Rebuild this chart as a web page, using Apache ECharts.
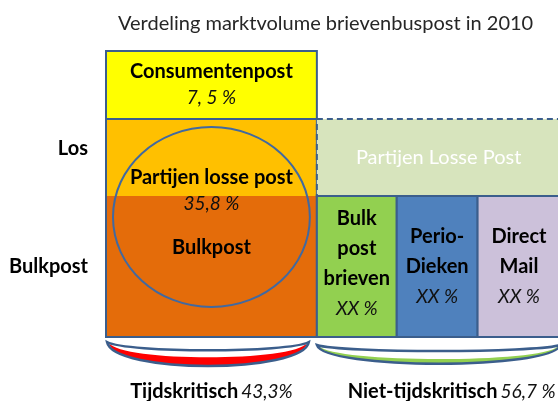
<!DOCTYPE html>
<html><head><meta charset="utf-8">
<script src="https://cdn.jsdelivr.net/npm/echarts@6/dist/echarts.min.js"></script>
<style>html,body{margin:0;padding:0;background:#fff}#c{width:558px;height:401px}</style>
</head><body><div id="c"></div>
<script>
// ---- data ----
const titleText = 'Verdeling marktvolume brievenbuspost in 2010';
const groupNames = ['Tijdskritisch', 'Niet-tijdskritisch'];
const groupShares = [43.3, 56.7];
const groupShareLabels = ['43,3%', '56,7 %'];
const leftNames = ['Consumentenpost', 'Partijen losse post', 'Bulkpost'];
const leftShareLabels = ['7, 5 %', '35,8 %'];
const layerNames = ['Bulkpost', 'Los'];
const layerBounds = [0, 4.93, 7.62, 10]; // schematic layers: bulk | los | consumenten
const rightTopName = 'Partijen Losse Post';
const subNames = ['Bulk\npost\nbrieven', 'Perio-\nDieken', 'Direct\nMail'];
const subShares = [16.4, 16.6, 17.0]; // schematic widths as drawn (labels read "XX %")
const subShareLabels = ['XX %', 'XX %', 'XX %'];

// ---- build ----
const FONT = 'Lato';
const OUT = '#3B5E8C';
const G0 = groupShares[0];
const G1 = G0 + subShares.reduce((s, v) => s + v, 0);
const L = layerBounds;

const blocks = [];
blocks.push({x0: 0, x1: G0, y0: L[2], y1: L[3], fill: '#FFFF00', stroke: OUT,
  text: '{b|' + leftNames[0] + '}\n{i|' + leftShareLabels[0] + '}', lh: 26});
blocks.push({x0: 0, x1: G0, y0: L[1], y1: L[2], fill: '#FFC000'});
blocks.push({x0: 0, x1: G0, y0: L[0], y1: L[1], fill: '#E46C0A'});
blocks.push({x0: 0, x1: G0, y0: L[0], y1: L[2], fill: 'none', stroke: OUT});
blocks.push({x0: G0, x1: G1, y0: L[1], y1: L[2], fill: '#D7E4BD', stroke: OUT, dash: [6, 4],
  text: '{w|' + rightTopName + '}', lh: 26});
const subFills = ['#92D050', '#4F81BD', '#CCC1DA'];
let acc = G0;
subShares.forEach((s, i) => {
  const lines = subNames[i].split('\n').map(t => '{b|' + t + '}');
  lines.push('{i|' + subShareLabels[i] + '}');
  blocks.push({x0: acc, x1: acc + s, y0: L[0], y1: L[1], fill: subFills[i], stroke: OUT,
    text: lines.join('\n'), lh: 30, dy: i === 0 ? -3 : 0});
  acc += s;
});

const rich = {
  b: {fontFamily: FONT, fontWeight: 'bold', fontSize: 20, fill: '#000000'},
  i: {fontFamily: FONT, fontStyle: 'italic', fontSize: 19, fill: '#111111'},
  w: {fontFamily: FONT, fontWeight: 'normal', fontSize: 20, fill: '#FFFFFF'}
};
function richWith(lh) {
  const r = {};
  Object.keys(rich).forEach(k => { r[k] = Object.assign({lineHeight: lh}, rich[k]); });
  return r;
}

function renderBlock(params, api) {
  const b = blocks[params.dataIndex];
  const p0 = api.coord([api.value(0), api.value(3)]);
  const p1 = api.coord([api.value(1), api.value(2)]);
  const el = {
    type: 'rect',
    shape: {x: p0[0], y: p0[1], width: p1[0] - p0[0], height: p1[1] - p0[1]},
    style: {fill: b.fill, stroke: b.stroke || null, lineWidth: b.stroke ? 2 : 0, lineDash: b.dash || null}
  };
  if (b.text) {
    el.textContent = {type: 'text', style: {text: b.text, rich: richWith(b.lh), align: 'center', verticalAlign: 'middle',
      fontFamily: FONT, fill: '#000000'}};
    el.textConfig = {position: 'inside', offset: [0, b.dy || 0], insideFill: '#000000', insideStroke: 'none'};
  }
  return el;
}

function ellipsePath(cx, cy, rx, ry) {
  const k = 0.5523;
  return 'M' + (cx - rx) + ' ' + cy +
    ' C' + (cx - rx) + ' ' + (cy - k * ry) + ' ' + (cx - k * rx) + ' ' + (cy - ry) + ' ' + cx + ' ' + (cy - ry) +
    ' C' + (cx + k * rx) + ' ' + (cy - ry) + ' ' + (cx + rx) + ' ' + (cy - k * ry) + ' ' + (cx + rx) + ' ' + cy +
    ' C' + (cx + rx) + ' ' + (cy + k * ry) + ' ' + (cx + k * rx) + ' ' + (cy + ry) + ' ' + cx + ' ' + (cy + ry) +
    ' C' + (cx - k * rx) + ' ' + (cy + ry) + ' ' + (cx - rx) + ' ' + (cy + k * ry) + ' ' + (cx - rx) + ' ' + cy + ' Z';
}

function renderEllipse(params, api) {
  const a = api.coord([api.value(0), L[2]]);
  const b = api.coord([api.value(1), L[0]]);
  const x0 = a[0] + 7, x1 = b[0] - 7, y0 = a[1] + 8, y1 = b[1] - 30;
  const cx = (x0 + x1) / 2, cy = (y0 + y1) / 2;
  const t = (txt, dy, style) => ({type: 'text', x: cx, y: cy + dy,
    style: Object.assign({text: txt, align: 'center', verticalAlign: 'middle', fontFamily: FONT, fill: '#000'}, style)});
  return {type: 'group', children: [
    {type: 'path', shape: {pathData: ellipsePath(cx, cy, (x1 - x0) / 2, (y1 - y0) / 2)},
      style: {fill: 'none', stroke: '#4169A0', lineWidth: 2}},
    t(leftNames[1], -39, {fontWeight: 'bold', fontSize: 20}),
    t(leftShareLabels[1], -13, {fontStyle: 'italic', fontSize: 19, fill: '#111'}),
    t(leftNames[2], 31, {fontWeight: 'bold', fontSize: 20})
  ]};
}

const braceColors = ['#FF0000', '#92D050'];
const braceBand = [9, 5];
function renderBrace(params, api) {
  const i = params.dataIndex;
  const a = api.coord([api.value(0), L[0]]);
  const b = api.coord([api.value(1), L[0]]);
  const x0 = a[0] + (i === 0 ? 1 : 0), x1 = b[0] - (i === 0 ? 8 : 0);
  const y0 = a[1] + (i === 0 ? 5 : 8);
  const w = x1 - x0;
  const topD = i === 0 ? 11 : 8, botD = i === 0 ? 32 : 25;
  const inD = botD - braceBand[i] * 1.33;
  const top = 'M' + x0 + ' ' + y0 + ' C' + (x0 + 0.1 * w) + ' ' + (y0 + topD) + ' ' + (x1 - 0.1 * w) + ' ' + (y0 + topD) + ' ' + x1 + ' ' + y0;
  const outer = top + ' C' + (x1 - 0.03 * w) + ' ' + (y0 + botD) + ' ' + (x0 + 0.03 * w) + ' ' + (y0 + botD) + ' ' + x0 + ' ' + y0 + ' Z';
  const band = 'M' + (x0 + 2) + ' ' + (y0 + 1) + ' C' + (x0 + 0.07 * w) + ' ' + (y0 + inD) + ' ' + (x1 - 0.07 * w) + ' ' + (y0 + inD) + ' ' + (x1 - 2) + ' ' + (y0 + 1) +
    ' C' + (x1 - 0.03 * w) + ' ' + (y0 + botD) + ' ' + (x0 + 0.03 * w) + ' ' + (y0 + botD) + ' ' + (x0 + 2) + ' ' + (y0 + 1) + ' Z';
  const cx = (a[0] + b[0]) / 2;
  return {type: 'group', children: [
    {type: 'path', shape: {pathData: outer}, style: {fill: '#FFFFFF', stroke: null}},
    {type: 'path', shape: {pathData: band}, style: {fill: braceColors[i], stroke: null}},
    {type: 'path', shape: {pathData: outer}, style: {fill: 'none', stroke: OUT, lineWidth: 2.5}},
    {type: 'text', x: i === 0 ? cx : cx + 13, y: 392, style: {
      text: '{b|' + groupNames[i] + '} {i|' + groupShareLabels[i] + '}', align: 'center', verticalAlign: 'middle',
      fontFamily: FONT, rich: richWith(22)}}
  ]};
}

function renderLayerLabel(params, api) {
  const i = params.dataIndex;
  const p = api.coord([0, api.value(0)]);
  return {type: 'text', x: p[0] - 18, y: p[1] + (i === 1 ? -9 : 0), style: {
    text: layerNames[i], align: 'right', verticalAlign: 'middle', fontFamily: FONT, fontWeight: 'bold', fontSize: 20, fill: '#000'}};
}

const chart = echarts.init(document.getElementById('c'), null, {renderer: 'canvas'});
chart.setOption({
  animation: false,
  title: {text: titleText, left: 113, top: 9, textStyle: {fontFamily: FONT, fontWeight: 'normal', fontSize: 20, color: '#262626'}},
  grid: {left: 106, right: -35, top: 51, bottom: 64, outerBoundsMode: 'none', containLabel: false},
  xAxis: {type: 'value', min: 0, max: 100, show: false},
  yAxis: {type: 'value', min: 0, max: 10, show: false},
  series: [
    {type: 'custom', clip: false, renderItem: renderBlock, encode: {x: [0, 1], y: [2, 3]},
      data: blocks.map(b => [b.x0, b.x1, b.y0, b.y1]), z: 2},
    {type: 'custom', clip: false, renderItem: renderEllipse, encode: {x: [0, 1]}, data: [[0, G0]], z: 3},
    {type: 'custom', clip: false, renderItem: renderBrace, encode: {x: [0, 1]}, data: [[0, G0], [G0, G1]], z: 3},
    {type: 'custom', clip: false, renderItem: renderLayerLabel, encode: {y: 0},
      data: layerNames.map((n, i) => [(L[i] + L[i + 1]) / 2]), z: 3}
  ]
});
</script></body></html>
